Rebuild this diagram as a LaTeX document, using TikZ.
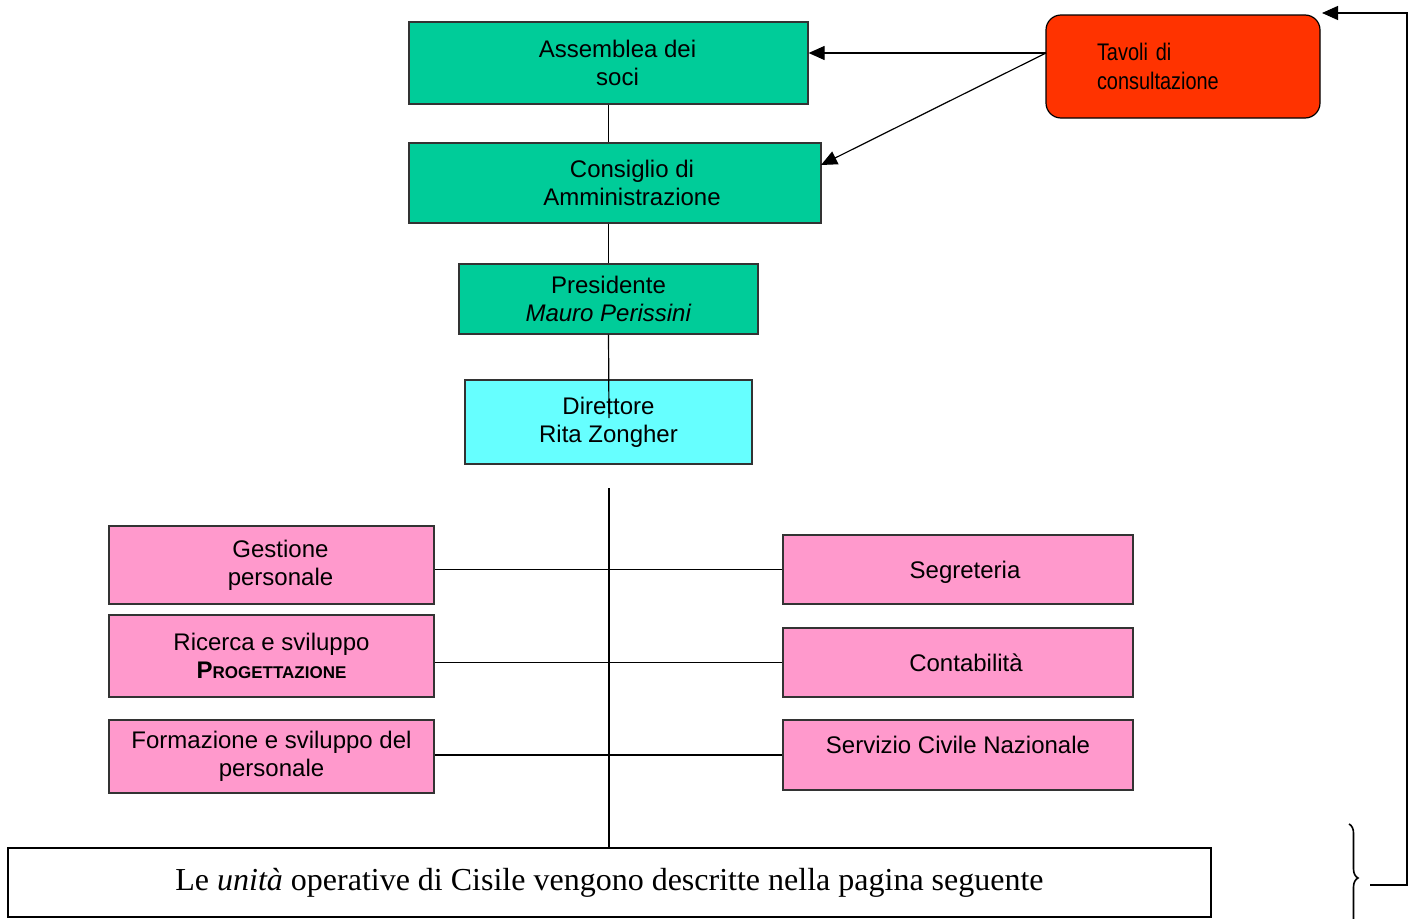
\documentclass[tikz,border=0pt]{standalone}
\usepackage{fontspec}
\setmainfont{Liberation Serif}
\setsansfont{Liberation Sans}
\newfontfamily\narrowfont[FakeStretch=0.83]{Liberation Sans}
\usetikzlibrary{arrows.meta,decorations.pathreplacing}
\definecolor{boardgreen}{HTML}{00CC99}
\definecolor{dircyan}{HTML}{66FFFF}
\definecolor{officepink}{HTML}{FF99CC}
\definecolor{tavred}{HTML}{FF3300}
\tikzset{
  unit/.style={draw=black!80, line width=1.2pt, fill=officepink,
    font=\sffamily\fontsize{24}{28}\selectfont, align=center, inner sep=0pt},
  board/.style={unit, fill=boardgreen},
  direct/.style={unit, fill=dircyan},
  tavolo/.style={draw=black, line width=1.2pt, fill=tavred, rounded corners=15pt,
    font=\narrowfont\fontsize{24}{29}\selectfont, align=left, text width=172pt,
    inner xsep=51pt, minimum height=103pt},
  note/.style={draw=black, line width=1.2pt, fill=white, font=\rmfamily\fontsize{32}{36}\selectfont,
    minimum width=1203pt, minimum height=69pt},
  flow/.style={line width=1.2pt, -{Triangle[length=16pt, width=14pt]}},
  link/.style={draw=black, line width=1.2pt},
}
\begin{document}
\begin{tikzpicture}[x=1pt, y=-1pt]
  \useasboundingbox (0,0) rectangle (1415,918);
  \clip (0,0) rectangle (1415,918);
  % governing bodies
  \node[board, minimum width=399pt, minimum height=82pt] (ass) at (608.5,63)
    {\hspace*{18pt}Assemblea dei\\\hspace*{18pt}soci};
  \node[board, minimum width=412pt, minimum height=80pt] (cons) at (615,183)
    {\hspace*{34pt}Consiglio di\\\hspace*{34pt}Amministrazione};
  \node[board, minimum width=299pt, minimum height=70pt] (pres) at (608.5,299) {Presidente\\\textit{Mauro Perissini}};
  \node[direct, minimum width=287pt, minimum height=84pt] (dir) at (608.5,422) {Direttore\\Rita Zongher};
  \node[tavolo] (tav) at (1183,66.5) {Tavoli di\\consultazione};
  % offices
  \node[unit, minimum width=325pt, minimum height=78pt] (gest) at (271.5,565)
    {\hspace*{18pt}Gestione\\\hspace*{18pt}personale};
  \node[unit, minimum width=325pt, minimum height=82pt] (ric) at (271.5,656)
    {Ricerca e sviluppo\\\textbf{P\fontsize{17}{20}\selectfont ROGETTAZIONE}};
  \node[unit, minimum width=325pt, minimum height=73pt] (form) at (271.5,756.5) {Formazione e sviluppo del\\personale};
  \node[unit, minimum width=350pt, minimum height=69pt] (segr) at (958,569.5)
    {\hspace*{14pt}\raisebox{-3pt}[\height][\depth]{Segreteria}};
  \node[unit, minimum width=350pt, minimum height=69pt] (cont) at (958,662.5) {\hspace*{16pt}Contabilità};
  \node[unit, minimum width=350pt, minimum height=70pt] (serv) at (958,755)
    {\raisebox{10pt}[\height][\depth]{Servizio Civile Nazionale}};
  \node[note] (nota) at (609.5,882.5) {Le \textit{unità} operative di Cisile vengono descritte nella pagina seguente};
  % connectors
  \coordinate (dirmid) at (609,418);
  \coordinate (spinetop) at (609,488);
  \coordinate (tavout) at (1046,53);
  \coordinate (consin) at (821,165);
  \coordinate (fbstart) at (1370,885);
  \coordinate (tavcorner) at (1322,13);
  \draw[link] (ass.south) -- (cons.north -| ass.south);
  \draw[link] (cons.south -| ass.south) -- (pres.north);
  \draw[link] (pres.south) -- (dirmid);
  \draw[line width=2pt] (spinetop) -- (nota.north -| spinetop);
  \draw[link] (segr.west) -- (segr.west -| gest.east);
  \draw[link] (cont.west) -- (cont.west -| ric.east);
  \draw[link] (serv.west) -- (serv.west -| form.east);
  \draw[flow] (tavout) -- (ass.east |- tavout);
  \draw[flow] (tavout) -- (consin);
  % brace and return path
  \draw[line width=1.6pt, decorate, decoration={brace, amplitude=9pt}] (1349,824) -- (1349,932);
  \draw[flow] (fbstart) -- (1407,885) |- (tavcorner);
\end{tikzpicture}
\end{document}
